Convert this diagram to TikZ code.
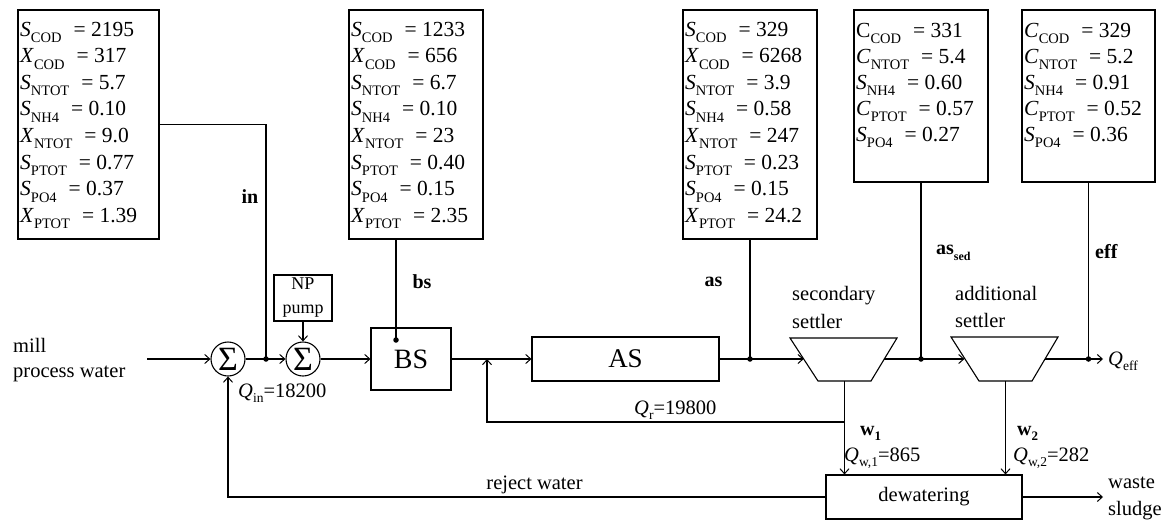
\documentclass[tikz,border=0pt]{standalone}
\usepackage{fontspec}
\setmainfont{Liberation Serif}
\usetikzlibrary{arrows.meta}

% variable with a lowered subscript and its value
\newcommand\vq[3]{\textit{#1}\raisebox{-6.5pt}{\fontsize{14.5}{14.5}\selectfont #2}\hspace{12pt}= #3}
% symbol with a lowered subscript
\newcommand\qsub[2]{\textit{#1}\raisebox{-5pt}{\fontsize{13.5}{13.5}\selectfont #2}}

\tikzset{
  ln/.style={line width=1.1pt},
  arr/.style={ln,-{Straight Barb[length=5pt,width=9pt,line width=1pt]}},
  blk/.style={draw,ln,rectangle,inner sep=0pt},
  sumnode/.style={draw,ln,circle,inner sep=0pt,minimum size=34pt,font=\fontsize{34}{34}\selectfont},
  datatxt/.style={anchor=base west,inner sep=0pt,font=\fontsize{21.5}{21.5}\selectfont},
  txt/.style={inner sep=0pt,font=\fontsize{20.5}{25}\selectfont},
  bl/.style={inner sep=0pt,font=\fontsize{20}{20}\selectfont\bfseries},
  dotmark/.style={fill,circle,inner sep=0pt,minimum size=5.5pt},
}

\begin{document}
\begin{tikzpicture}[x=1pt,y=-1pt]
\useasboundingbox (0,0) rectangle (1167,520);

% ---- data boxes ----
\node[blk,minimum width=141pt,minimum height=229pt] (b1) at (88.5,124.5) {};
\node[blk,minimum width=134pt,minimum height=229pt] (b2) at (416,124.5) {};
\node[blk,minimum width=134pt,minimum height=229pt] (b3) at (750,124.5) {};
\node[blk,minimum width=134pt,minimum height=172pt] (b4) at (921,96) {};
\node[blk,minimum width=133pt,minimum height=172pt] (b5) at (1088.5,96) {};

\foreach \v/\s/\n [count=\i] in {S/COD/2195, X/COD/317, S/NTOT/5.7, S/NH4/0.10,
    X/NTOT/9.0, S/PTOT/0.77, S/PO4/0.37, X/PTOT/1.39}
  \node[datatxt] (t1-\i) at (20,{36+26.6*(\i-1)}) {\vq{\v}{\s}{\n}};
\foreach \v/\s/\n [count=\i] in {S/COD/1233, X/COD/656, S/NTOT/6.7, S/NH4/0.10,
    X/NTOT/23, S/PTOT/0.40, S/PO4/0.15, X/PTOT/2.35}
  \node[datatxt] (t2-\i) at (351,{36+26.6*(\i-1)}) {\vq{\v}{\s}{\n}};
\foreach \v/\s/\n [count=\i] in {S/COD/329, X/COD/6268, S/NTOT/3.9, S/NH4/0.58,
    X/NTOT/247, S/PTOT/0.23, S/PO4/0.15, X/PTOT/24.2}
  \node[datatxt] (t3-\i) at (685,{36+26.6*(\i-1)}) {\vq{\v}{\s}{\n}};
\foreach \v/\s/\n [count=\i] in {\textup{C}/COD/331, C/NTOT/5.4, S/NH4/0.60,
    C/PTOT/0.57, S/PO4/0.27}
  \node[datatxt] (t4-\i) at (856,{37+26*(\i-1)}) {\vq{\v}{\s}{\n}};
\foreach \v/\s/\n [count=\i] in {C/COD/329, C/NTOT/5.2, S/NH4/0.91,
    C/PTOT/0.52, S/PO4/0.36}
  \node[datatxt] (t5-\i) at (1024,{37+26*(\i-1)}) {\vq{\v}{\s}{\n}};

% ---- process blocks ----
\node[sumnode] (sum1) at (228,359) {Σ};
\node[sumnode] (sum2) at (303,359) {Σ};
\node[blk,minimum width=58pt,minimum height=46pt,align=center,
      font=\fontsize{18}{24}\selectfont] (np) at (303,298) {NP\\pump};
\node[blk,minimum width=80pt,minimum height=62pt,font=\fontsize{28}{28}\selectfont] (bs) at (411,359) {BS};
\node[blk,minimum width=187pt,minimum height=44pt,font=\fontsize{27}{27}\selectfont] (as) at (625.5,359) {AS};
\node[blk,minimum width=196pt,minimum height=44pt,font=\fontsize{20.5}{20.5}\selectfont] (dw) at (924,497) {dewatering};

% settlers
\draw[ln] (790,338) -- (897,338) -- (871,381) -- (818,381) -- cycle;
\draw[ln] (951,337) -- (1058,337) -- (1032,381) -- (979,381) -- cycle;
\coordinate (s1in) at (803.7,359);
\coordinate (s1out) at (883.5,359);
\coordinate (s1bot) at (844.5,381);
\coordinate (s2in) at (964.4,359);
\coordinate (s2out) at (1045,359);
\coordinate (s2bot) at (1005.5,381);

% junctions and free ends
\coordinate (in0) at (147,359);
\coordinate (j1) at (266,359);
\coordinate (bsdot) at (396,340);
\coordinate (jr) at (487,359);
\coordinate (j3) at (750,359);
\coordinate (j4) at (921,359);
\coordinate (j5) at (1088.5,359);
\coordinate (effend) at (1103,359);
\coordinate (jq) at (844.5,422);
\coordinate (wsend) at (1103,497);

% ---- connectors ----
\draw[arr] (in0) -- (sum1.west);
\draw[ln] (sum1.east) -- (j1);
\draw[arr] (j1) -- (sum2.west);
\draw[arr] (np.south) -- (sum2.north);
\draw[arr] (sum2.east) -- (bs.west);
\draw[ln] (bs.east) -- (jr);
\draw[arr] (jr) -- (as.west);
\draw[ln] (as.east) -- (j3);
\draw[arr] (j3) -- (s1in);
\draw[ln] (s1out) -- (j4);
\draw[arr] (j4) -- (s2in);
\draw[ln] (s2out) -- (j5);
\draw[arr] (j5) -- (effend);
\draw[arr] (s1bot) -- (s1bot |- dw.north);
\draw[arr] (jq) -| (jr);
\draw[arr] (s2bot) -- (s2bot |- dw.north);
\draw[arr] (dw.west) -| (sum1.south);
\draw[arr] (dw.east) -- (wsend);

% measurement taps
\draw[ln] (b1.east) -| (j1);
\draw[ln] (bsdot |- b2.south) -- (bsdot);
\draw[ln] (b3.south) -- (j3);
\draw[ln] (b4.south) -- (j4);
\draw[ln] (b5.south) -- (j5);
\foreach \p in {j1,bsdot,j3,j4,j5}
  \node[dotmark] (d-\p) at (\p) {};

% ---- labels ----
\node[txt,anchor=west,align=left] (mill) at (13,360) {mill\\process water};
\node[txt,anchor=west,align=left,font=\fontsize{20.5}{28}\selectfont] (sec) at (792,307) {secondary\\settler};
\node[txt,anchor=west,align=left,font=\fontsize{20.5}{27}\selectfont] (add) at (955,306.5) {additional\\settler};
\node[bl] (lin) at (250,197) {in};
\node[bl] (lbs) at (422,282) {bs};
\node[bl] (las) at (713.5,282) {as};
\node[bl,anchor=west] (lassed) at (936,253) {as\raisebox{-6pt}{\fontsize{12}{12}\selectfont\bfseries sed}};
\node[bl,anchor=west] (leff) at (1095,252) {eff};
\node[txt,anchor=west] (qeff) at (1108,361) {\qsub{Q}{eff}};
\node[txt,anchor=west] (qin) at (238,393) {\qsub{Q}{in}=18200};
\node[txt,anchor=west] (qr) at (634,410) {\qsub{Q}{r}=19800};
\node[bl,anchor=west] (w1) at (860,433) {w\raisebox{-5pt}{\fontsize{13}{13}\selectfont\bfseries 1}};
\node[txt,anchor=west] (qw1) at (844,458) {\qsub{Q}{w,1}=865};
\node[bl,anchor=west] (w2) at (1017,433) {w\raisebox{-5pt}{\fontsize{13}{13}\selectfont\bfseries 2}};
\node[txt,anchor=west] (qw2) at (1013,458) {\qsub{Q}{w,2}=282};
\node[txt] (rej) at (534.5,485) {reject water};
\node[txt,anchor=west,align=left,font=\fontsize{20.5}{27}\selectfont] (ws) at (1108,498) {waste\\sludge};
\end{tikzpicture}
\end{document}
